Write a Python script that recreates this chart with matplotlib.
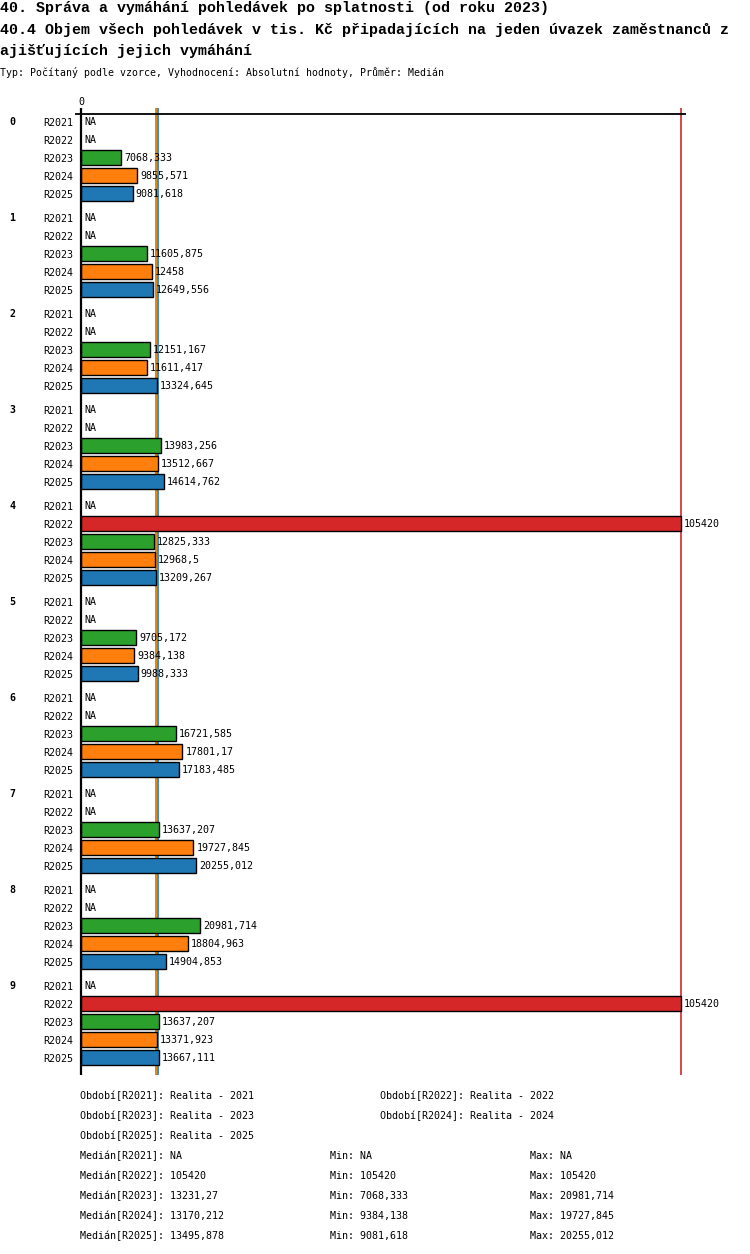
import numpy as np
import matplotlib
matplotlib.use("Agg")
import matplotlib.pyplot as plt
from matplotlib.transforms import blended_transform_factory

W, H = 750, 1254

# data (NaN = NA)
NA = np.nan
groups = ["0", "1", "2", "3", "4", "5", "6", "7", "8", "9"]
series = ["R2021", "R2022", "R2023", "R2024", "R2025"]
colors = ["#1f77b4", "#d62728", "#2ca02c", "#ff7f0e", "#1f77b4"]
r2021 = [NA, NA, NA, NA, NA, NA, NA, NA, NA, NA]
r2022 = [NA, NA, NA, NA, 105420, NA, NA, NA, NA, 105420]
r2023 = [7068.333, 11605.875, 12151.167, 13983.256, 12825.333, 9705.172, 16721.585, 13637.207, 20981.714, 13637.207]
r2024 = [9855.571, 12458, 11611.417, 13512.667, 12968.5, 9384.138, 17801.17, 19727.845, 18804.963, 13371.923]
r2025 = [9081.618, 12649.556, 13324.645, 14614.762, 13209.267, 9988.333, 17183.485, 20255.012, 14904.853, 13667.111]
values = [r2021, r2022, r2023, r2024, r2025]
period_names = ["Realita - 2021", "Realita - 2022", "Realita - 2023", "Realita - 2024", "Realita - 2025"]

MONO = "DejaVu Sans Mono"
TITLE_FONT = "Liberation Mono"


def fmt(v):
    if v is None or np.isnan(v):
        return "NA"
    s = f"{v:.3f}".rstrip("0").rstrip(".")
    return s.replace(".", ",")


def fx(x):
    return x / W


def fy(y):
    return 1 - y / H


fig = plt.figure(figsize=(W / 100, H / 100), dpi=100)
fig.patch.set_facecolor("white")

fig.text(fx(0), fy(8), "40. Správa a vymáhání pohledávek po splatnosti (od roku 2023)",
         family=TITLE_FONT, weight="bold", fontsize=10.8, va="center", ha="left")
fig.text(fx(0), fy(30), "40.4 Objem všech pohledávek v tis. Kč připadajících na jeden úvazek zaměstnanců z",
         family=TITLE_FONT, weight="bold", fontsize=10.8, va="center", ha="left")
fig.text(fx(0), fy(51), "ajišťujících jejich vymáhání",
         family=TITLE_FONT, weight="bold", fontsize=10.8, va="center", ha="left")
fig.text(fx(0), fy(73), "Typ: Počítaný podle vzorce, Vyhodnocení: Absolutní hodnoty, Průměr: Medián",
         family=MONO, fontsize=7.1, va="center", ha="left")

# axes: data 0 at px 81, 105420 at px 681
ax_left, ax_right, ax_top, ax_bot = 75, 686, 108, 1075
ax = fig.add_axes([fx(ax_left), fy(ax_bot), (ax_right - ax_left) / W, (ax_bot - ax_top) / H])
vmax = np.nanmax(np.array(values, dtype=float))
upp = vmax / 600.0
ax.set_xlim(-(81 - ax_left) * upp, vmax + (ax_right - 681) * upp)
ax.set_ylim(ax_bot, ax_top)
for sp in ax.spines.values():
    sp.set_visible(False)

row_h, group_h, first = 18, 96, 122
ys, ylabels = [], []
for g, grp in enumerate(groups):
    for s, name in enumerate(series):
        y = first + g * group_h + s * row_h
        ys.append(y)
        ylabels.append(name)
        v = values[s][g]
        if not np.isnan(v):
            ax.barh(y, v, height=15, color=colors[s], edgecolor="black", linewidth=1, zorder=3)
        ax.annotate(fmt(v), xy=(0 if np.isnan(v) else v, y), xytext=(3, 0), textcoords="offset pixels",
                    ha="left", va="center", family=MONO, fontsize=7.2, zorder=4)

ax.set_yticks(ys, ylabels, family=MONO, fontsize=7.2)
ax.tick_params(axis="y", length=0, pad=1.5)
ax.set_xticks([0], ["0"], family=MONO, fontsize=7.2)
ax.xaxis.tick_top()
ax.tick_params(axis="x", length=0, pad=0.5)

gtrans = blended_transform_factory(fig.transFigure, ax.transData)
for g, grp in enumerate(groups):
    ax.text(fx(12), first + g * group_h, grp, transform=gtrans, family=MONO, weight="bold",
            fontsize=7.2, ha="center", va="center")

ax.axhline(114, color="black", linewidth=1.3, zorder=2)
ax.axvline(0, color="black", linewidth=1.6, zorder=5)

# medians
medians = []
for s in range(len(series)):
    arr = np.array(values[s], dtype=float)
    medians.append(np.nan if np.all(np.isnan(arr)) else np.nanmedian(arr))
for s in [2, 3, 4, 1]:
    if not np.isnan(medians[s]):
        ax.axvline(medians[s], color=colors[s], linewidth=1.2, zorder=1)

# legend texts
y0 = 1096
for i, (name, per) in enumerate(zip(series, period_names)):
    col, row = i % 2, i // 2
    fig.text(fx(80 + col * 300), fy(y0 + row * 20), f"Období[{name}]: {per}",
             family=MONO, fontsize=7.2, va="center", ha="left")
for i, name in enumerate(series):
    arr = np.array(values[i], dtype=float)
    y = y0 + (3 + i) * 20
    mn = np.nan if np.all(np.isnan(arr)) else np.nanmin(arr)
    mx = np.nan if np.all(np.isnan(arr)) else np.nanmax(arr)
    md = medians[i]
    md_s = "NA" if np.isnan(md) else fmt(round(md, 3))
    fig.text(fx(80), fy(y), f"Medián[{name}]: {md_s}", family=MONO, fontsize=7.2, va="center", ha="left")
    fig.text(fx(330), fy(y), f"Min: {fmt(mn)}", family=MONO, fontsize=7.2, va="center", ha="left")
    fig.text(fx(530), fy(y), f"Max: {fmt(mx)}", family=MONO, fontsize=7.2, va="center", ha="left")

fig.savefig("out.png", dpi=100, facecolor="white")
